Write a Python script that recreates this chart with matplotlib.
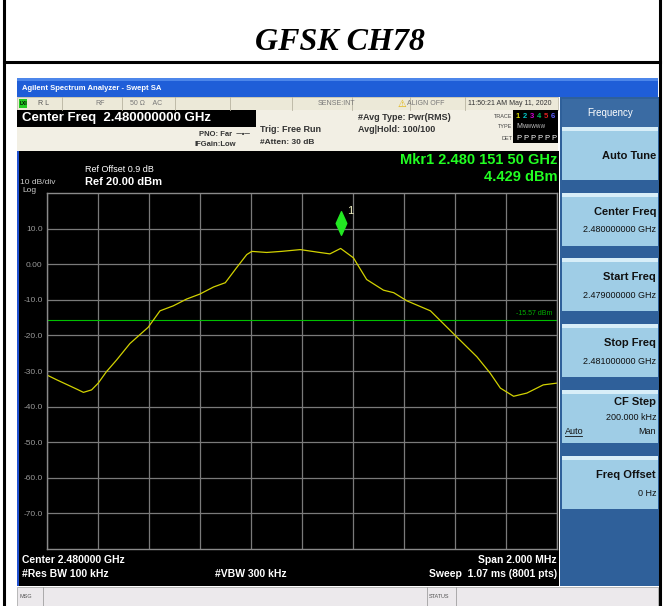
import matplotlib
matplotlib.use('Agg')
import matplotlib.pyplot as plt
from matplotlib.patches import Rectangle
from matplotlib.path import Path

plt.rcParams['font.family'] = ['Liberation Sans', 'DejaVu Sans']

### Data
title = 'GFSK CH78'
freq_ghz = [2.47900, 2.47904, 2.479118, 2.479144, 2.479176, 2.479202, 2.479234,
            2.479274, 2.479326, 2.479398, 2.479444, 2.479496, 2.479548, 2.479600,
            2.479654, 2.479700, 2.479744, 2.479784, 2.479804, 2.479862, 2.479920,
            2.479994, 2.480060, 2.480110, 2.480152, 2.480202, 2.480254, 2.480320,
            2.480360, 2.480412, 2.480504, 2.480542, 2.480608, 2.480686, 2.480738,
            2.480778, 2.480830, 2.480882, 2.480946, 2.481000]
level_dbm = [-31.1, -32.5, -35.1, -36.0, -35.3, -33.4, -30.2,
             -26.9, -22.3, -17.7, -13.1, -11.7, -9.8, -8.4,
             -6.4, -5.2, -1.0, 2.7, 3.6, 3.3, 3.6,
             4.1, 3.4, 2.9, 4.43, 1.8, -4.3, -7.3,
             -8.0, -10.3, -13.1, -15.8, -20.5, -26.0, -30.6,
             -34.8, -37.1, -36.2, -33.9, -33.4]
mkr_freq = 2.4801515
mkr_level = 4.429
display_line = -15.57
ref_level = 20.0
db_per_div = 10
y_ticks = [10, 0, -10, -20, -30, -40, -50, -60, -70]
y_tick_labels = ['10.0', '0.00', '-10.0', '-20.0', '-30.0', '-40.0', '-50.0', '-60.0', '-70.0']
softkeys = [('Auto Tune', None), ('Center Freq', '2.480000000 GHz'),
            ('Start Freq', '2.479000000 GHz'), ('Stop Freq', '2.481000000 GHz'),
            ('CF Step', '200.000 kHz'), ('Freq Offset', '0 Hz')]

W, H = 664, 606
fig = plt.figure(figsize=(W / 100, H / 100), dpi=100)
fig.patch.set_facecolor('white')

# full-figure axes in pixel coordinates for the instrument frame
bg = fig.add_axes([0, 0, 1, 1])
bg.set_xlim(0, W)
bg.set_ylim(H, 0)
bg.axis('off')

def box(x0, y0, x1, y1, fc, ec='none', lw=0, z=1):
    bg.add_patch(Rectangle((x0, y0), x1 - x0, y1 - y0, facecolor=fc,
                           edgecolor=ec, linewidth=lw, zorder=z))

def txt(x, y, s, size=7, color='black', ha='left', weight='normal', **kw):
    bg.text(x, y, s, fontsize=size, color=color, ha=ha, va='center',
            fontweight=weight, zorder=5, **kw)

# page frame and title
bg.plot([4, 4], [0, H], color='black', lw=2.2)
bg.plot([660, 660], [0, H], color='black', lw=2.2)
bg.plot([4, 660], [62, 62], color='black', lw=2.2)
bg.text(340, 42, title, fontsize=23, fontweight='bold', fontstyle='italic',
        family='Liberation Serif', ha='center', va='center')

# window title bar
box(17, 78, 658, 97, '#1f5ed8')
box(17, 78, 658, 81, '#4c86ea', z=2)
txt(22, 88, 'Agilent Spectrum Analyzer - Swept SA', size=5.5, color='white', weight='bold')

# status row
box(17, 97, 558, 110, '#ece9d8', ec='#b8b4a0', lw=0.5)
box(19, 99, 27, 108, '#22cc22', z=2)
txt(19.5, 103.5, 'LXI', size=3.5, color='black', weight='bold')
for sx in [62, 122, 175, 230, 292, 352, 410, 465]:
    bg.plot([sx, sx], [97, 110], color='#b8b4a0', lw=0.6, zorder=3)
txt(38, 103.5, 'R L', size=5, color='#555555')
txt(95, 103.5, 'RF', size=5, color='#777777')
txt(130, 103.5, '50 Ω    AC', size=5, color='#777777')
txt(318, 103.5, 'SENSE:INT', size=5, color='#777777')
txt(398, 103.5, '⚠', size=7, color='#e0b000')
txt(407, 103.5, 'ALIGN OFF', size=5, color='#777777')
txt(468, 103.5, '11:50:21 AM May 11, 2020', size=5, color='#333333')

# info area
box(17, 110, 558, 151, '#f2efe4')
box(17, 110, 256, 127, 'black', z=2)
txt(22, 118.5, 'Center Freq  2.480000000 GHz', size=9.5, color='white', weight='bold')
txt(250, 134, 'PNO: Far  ─•─', size=5.5, ha='right', weight='bold', color='#333333')
txt(236, 145, 'IFGain:Low', size=5.5, ha='right', weight='bold', color='#333333')
txt(260, 129, 'Trig: Free Run', size=6.5, weight='bold', color='#333333')
txt(260, 142, '#Atten: 30 dB', size=6, weight='bold', color='#333333')
txt(358, 117, '#Avg Type: Pwr(RMS)', size=6.5, weight='bold', color='#333333')
txt(358, 129, 'Avg|Hold: 100/100', size=6.5, weight='bold', color='#333333')
txt(512, 116, 'TRACE', size=4, ha='right', color='#444444')
txt(512, 127, 'TYPE', size=4, ha='right', color='#444444')
txt(512, 138, 'DET', size=4, ha='right', color='#444444')
box(513, 110, 558, 143, 'black', z=2)
for i, c in enumerate(['#d8d800', '#00c8c8', '#d000d0', '#00c060', '#e02020', '#6060ff']):
    txt(516 + 7 * i, 116, str(i + 1), size=5.5, color=c, weight='bold')
    txt(516 + 7 * i, 138, 'P', size=5.5, color='white')
txt(516, 127, 'M', size=5, color='#cccccc')
txt(523, 127, 'WWWWW', size=3.5, color='#cccccc')

# black display area
box(17, 151, 559, 586, 'black')
box(17, 151, 19, 586, '#2050d0', z=2)
txt(85, 169, 'Ref Offset 0.9 dB', size=6.5, color='white')
txt(20, 182, '10 dB/div', size=6, color='#cccccc')
txt(85, 182, 'Ref 20.00 dBm', size=8, color='white', weight='bold')
txt(22, 190, 'Log', size=6, color='#cccccc')
txt(557, 160, 'Mkr1 2.480 151 50 GHz', size=10.5, color='#22ff22', ha='right', weight='bold')
txt(557, 177, '4.429 dBm', size=10.5, color='#22ff22', ha='right', weight='bold')
txt(22, 560, 'Center 2.480000 GHz', size=7.5, color='white', weight='bold')
txt(22, 574, '#Res BW 100 kHz', size=7.5, color='white', weight='bold')
txt(215, 574, '#VBW 300 kHz', size=7.5, color='white', weight='bold')
txt(557, 560, 'Span 2.000 MHz', size=7.5, color='white', ha='right', weight='bold')
txt(557, 574, 'Sweep  1.07 ms (8001 pts)', size=7.5, color='white', ha='right', weight='bold')

# softkey panel
box(560, 97, 659, 586, '#2f609a')
box(562, 99, 658, 127, '#3a6ba3', z=2)
txt(610, 113, 'Frequency', size=7, color='white', ha='center')
key_tops = [127, 193, 258, 324, 390, 456]
for (name, val), top in zip(softkeys, key_tops):
    box(562, top, 658, top + 53, '#9fcde6', z=2)
    box(562, top, 658, top + 4, '#d8eef8', z=3)
    if val is None:
        txt(656, top + 29, name, size=8, ha='right', weight='bold', color='#111111')
    elif name == 'CF Step':
        txt(656, top + 12, name, size=8, ha='right', weight='bold', color='#111111')
        txt(656, top + 27, val, size=6.5, ha='right', color='#111111')
        txt(565, top + 41, 'Auto', size=6.5, color='#111111')
        bg.plot([565, 582], [top + 46, top + 46], color='#111111', lw=0.6, zorder=5)
        txt(656, top + 41, 'Man', size=6.5, ha='right', color='#111111')
    else:
        txt(656, top + 19, name, size=8, ha='right', weight='bold', color='#111111')
        txt(656, top + 37, val, size=6.5, ha='right', color='#111111')

# message bar
box(17, 587, 658, 606, '#ece9ec', ec='#a0a0a0', lw=0.5)
bg.plot([43, 43], [587, 606], color='#a0a0a0', lw=0.6)
bg.plot([427, 427], [587, 606], color='#a0a0a0', lw=0.6)
bg.plot([456, 456], [587, 606], color='#a0a0a0', lw=0.6)
txt(20, 597, 'MSG', size=4, color='#555555')
txt(429, 597, 'STATUS', size=4, color='#555555')

### Spectrum plot
left, top, right, bottom = 46.7, 193, 557, 549
ax = fig.add_axes([left / W, 1 - bottom / H, (right - left) / W, (bottom - top) / H])
ax.set_facecolor('black')
ax.set_xlim(2.479, 2.481)
ax.set_ylim(ref_level - 10 * db_per_div, ref_level)
ax.set_xticks([2.479 + 0.0002 * i for i in range(11)])
ax.set_xticklabels([])
ax.set_yticks(y_ticks)
ax.set_yticklabels(y_tick_labels)
ax.tick_params(length=0, labelsize=6, labelcolor='#9a9a9a', pad=3)
ax.grid(True, color='#7a7a7a', linewidth=0.9)
for sp in ax.spines.values():
    sp.set_color('#8a8a8a')
    sp.set_linewidth(1.0)

ax.axhline(display_line, color='#00c000', linewidth=0.8)
ax.text(2.48098, display_line + 1.6, '%.2f dBm' % display_line, color='#00b000',
        fontsize=5, ha='right', va='center')
ax.plot(freq_ghz, level_dbm, color='#d2d200', linewidth=0.9)

diamond = Path([(0, 1), (0.45, 0), (0, -1), (-0.45, 0), (0, 1)],
               [Path.MOVETO, Path.LINETO, Path.LINETO, Path.LINETO, Path.CLOSEPOLY])
ax.plot([mkr_freq], [mkr_level + 7.2], marker=diamond, markersize=17,
        color='#22e822', linestyle='none')
ax.text(mkr_freq + 0.000025, mkr_level + 10.5, '1', color='#f0f0c0', fontsize=8,
        ha='left', va='center')

fig.savefig('out.png', dpi=100, facecolor='white')
